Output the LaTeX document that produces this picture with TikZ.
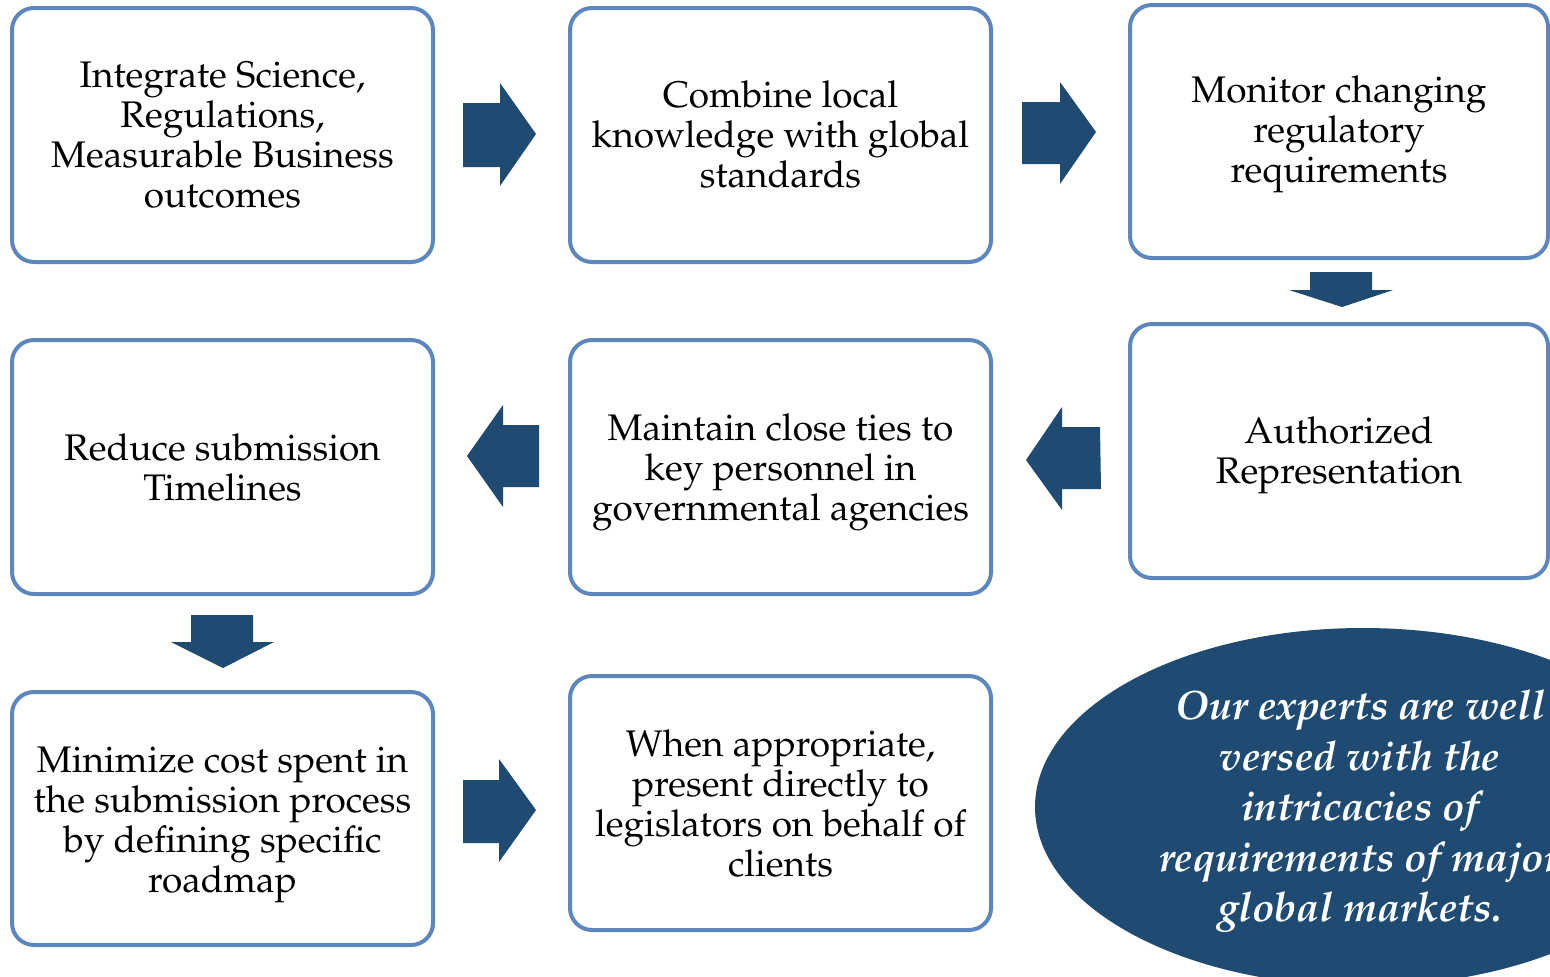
\documentclass[tikz,border=0pt]{standalone}
\usepackage[T1]{fontenc}
\usepackage{mathpazo}
\usetikzlibrary{shapes.geometric,calc}
\definecolor{boxline}{HTML}{5B87BE}
\definecolor{darkblue}{HTML}{1F4A72}
\tikzset{
  stepbox/.style={draw=boxline, line width=4pt, rounded corners=22pt, fill=white,
    minimum width=421pt, minimum height=254pt, inner sep=0pt},
  boxtext/.style={inner sep=0pt, align=center, font=\fontsize{37}{40}\selectfont},
  blockarrow/.style={fill=darkblue},
  oval/.style={ellipse, fill=darkblue, inner sep=0pt,
    minimum width=656pt, minimum height=358pt},
  ovaltext/.style={text=white, inner sep=0pt, align=center,
    font=\fontsize{41}{50.5}\selectfont\bfseries\itshape}
}
\begin{document}
\begin{tikzpicture}[x=1pt,y=-1pt]
\clip (0,0) rectangle (1550,977);
\fill[white] (0,0) rectangle (1550,977);
% boxes
\node[stepbox] (b1) at (222.5,135) {};
\node[stepbox] (b2) at (780.5,135) {};
\node[stepbox, minimum width=418pt, minimum height=253pt] (b3) at (1339,131.5) {};
\node[stepbox, minimum width=418pt] (b6) at (1339,451) {};
\node[stepbox] (b5) at (780.5,467) {};
\node[stepbox] (b4) at (222.5,467) {};
\node[stepbox, minimum height=253pt] (b7) at (222.5,818.5) {};
\node[stepbox] (b8) at (780.5,803) {};
\node[oval] (ov) at (1363,807) {};
% texts
\node[boxtext] (t1) at (b1.center) {Integrate Science,\\Regulations,\\Measurable Business\\outcomes};
\node[boxtext] (t2) at (b2.center) {Combine local\\knowledge with global\\standards};
\node[boxtext] (t3) at ($(b3.center)+(0,3)$) {Monitor changing\\regulatory\\requirements};
\node[boxtext] (t6) at ($(b6.center)+(0,4)$) {Authorized\\Representation};
\node[boxtext] (t5) at ($(b5.center)+(0,5)$) {Maintain close ties to\\key personnel in\\governmental agencies};
\node[boxtext] (t4) at ($(b4.center)+(0,1)$) {Reduce submission\\Timelines};
\node[boxtext] (t7) at ($(b7.center)+(0,6)$) {Minimize cost spent in\\the submission process\\by defining specific\\roadmap};
\node[boxtext] (t8) at ($(b8.center)+(0,1)$) {When appropriate,\\present directly to\\legislators on behalf of\\clients};
\node[ovaltext] (to) at ($(ov.center)+(-3,5)$) {Our experts are well\\versed with the\\intricacies of\\requirements of major\\global markets.};
% arrows
\fill[blockarrow] (463,103) -- (500,103) -- (500,83) -- (536,134) -- (500,186) -- (500,167) -- (463,167) -- cycle;
\fill[blockarrow] (1022,102) -- (1060,102) -- (1060,82) -- (1096,132) -- (1060,184) -- (1060,164) -- (1022,164) -- cycle;
\fill[blockarrow] (1310,272) -- (1372,272) -- (1372,290) -- (1393,290) -- (1342,307) -- (1289,290) -- (1310,290) -- cycle;
\fill[blockarrow] (539,425) -- (503,425) -- (503,405) -- (467,456) -- (503,507) -- (503,487) -- (539,487) -- cycle;
\fill[blockarrow] (1100,427) -- (1062,427) -- (1062,407) -- (1026,460) -- (1062,510) -- (1062,489) -- (1101,489) -- cycle;
\fill[blockarrow] (191,615) -- (253,615) -- (253,642) -- (274,642) -- (223,668) -- (171,642) -- (191,642) -- cycle;
\fill[blockarrow] (463,780) -- (499,780) -- (499,759) -- (536,810) -- (499,862) -- (499,843) -- (463,843) -- cycle;
\end{tikzpicture}
\end{document}
